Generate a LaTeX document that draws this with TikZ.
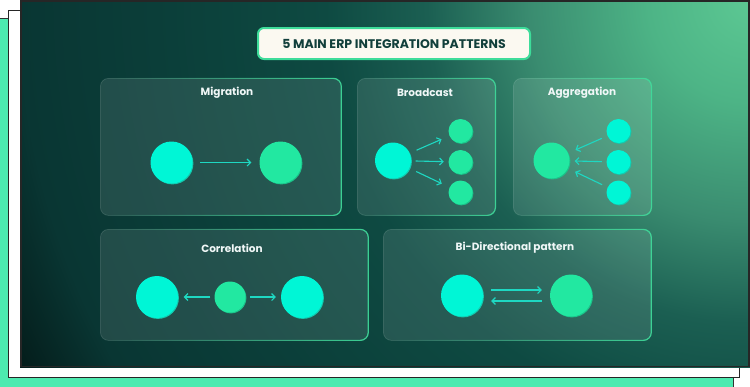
\documentclass[tikz,border=0pt]{standalone}
\usepackage{fontspec}
\setmainfont{Poppins}
\usetikzlibrary{positioning,calc,arrows.meta,shadows,fadings}

\definecolor{glowA}{HTML}{5CC893}
\definecolor{glowB}{HTML}{4DB486}
\definecolor{glowC}{HTML}{3A8C70}
\definecolor{glowD}{HTML}{1B5F52}
\definecolor{glowE}{HTML}{0E4A42}
\definecolor{glowF}{HTML}{0B3E39}
\definecolor{glowG}{HTML}{093633}
\definecolor{glowH}{HTML}{041D1B}
\definecolor{ballcyan}{HTML}{00F6D6}
\definecolor{ringcyan}{HTML}{13C9AE}
\definecolor{ballgreen}{HTML}{22E8A1}
\definecolor{ringgreen}{HTML}{1BC38A}
\definecolor{flowc}{HTML}{1ED8C2}
\definecolor{edgegreen}{HTML}{3DDC9A}
\definecolor{layergreen}{HTML}{4DEAB0}
\definecolor{titleink}{HTML}{113F3B}
\definecolor{titlefill}{HTML}{FBF9F1}

\pgfdeclareradialshading{panelglow}{\pgfpointorigin}{color(0bp)=(glowA); color(3bp)=(glowB); color(6.5bp)=(glowC); color(9.5bp)=(glowD); color(12.5bp)=(glowE); color(17.5bp)=(glowF); color(21.5bp)=(glowG); color(24bp)=(glowH); color(50bp)=(glowH)}
\tikzfading[name=fadetoleft, left color=transparent!100, middle color=transparent!75, right color=transparent!0]

\begin{document}
\begin{tikzpicture}[x=1pt, y=-1pt, font=\bfseries]
\tikzset{
  card/.style={draw=white, draw opacity=0.12, fill=white, fill opacity=0.1, rounded corners=8pt, line width=0.8pt,
    postaction={draw=edgegreen, draw opacity=0.9, line width=1.2pt, path fading=fadetoleft}},
  cardtitle/.style={text=white!94!teal, font=\bfseries\fontsize{10.5}{12}\selectfont, inner sep=0pt},
  banner/.style={draw=edgegreen, line width=2pt, fill=titlefill, rounded corners=6pt, text=titleink,
    font=\bfseries\fontsize{12.5}{15}\selectfont, minimum width=272pt, minimum height=31pt},
  cyanball/.style={circle, fill=ballcyan, inner sep=0pt,
    drop shadow={shadow xshift=0.9pt, shadow yshift=-0.9pt, fill=ringcyan, opacity=1}},
  greenball/.style={circle, fill=ballgreen, inner sep=0pt,
    drop shadow={shadow xshift=0.9pt, shadow yshift=-0.9pt, fill=ringgreen, opacity=1}},
  flow/.style={draw=flowc, line width=1.1pt, -{Straight Barb[length=3.5pt, width=7pt]}}
}
\useasboundingbox (0,0) rectangle (750,386);
% stacked sheets behind the panel
\fill[layergreen, draw=black!80, line width=0.8pt] (-2,18) rectangle (733,390);
\fill[white, draw=black!85, line width=0.9pt] (8,10) rectangle (739,377.5);
\begin{scope}
  \clip (20,0) rectangle (750,367);
  \fill[glowH] (20,0) rectangle (750,367);
  \shade[shading=panelglow] (750,0) circle (850pt);
\end{scope}
\draw[black!85, line width=1.6pt] (20.8,0.8) rectangle (749,366.5);

\node[banner] (ttl) at (394,43.5) {5 MAIN ERP INTEGRATION PATTERNS};

% cards
\node[card, minimum width=241pt, minimum height=137pt, anchor=north west] (migc) at (100,78) {};
\node[card, minimum width=138pt, minimum height=137pt, anchor=north west] (brdc) at (357,78) {};
\node[card, minimum width=138pt, minimum height=137pt, anchor=north west] (aggc) at (513,78) {};
\node[card, minimum width=268pt, minimum height=111pt, anchor=north west] (corc) at (100,229) {};
\node[card, minimum width=268pt, minimum height=111pt, anchor=north west] (bidc) at (383,229) {};

\node[cardtitle] at ($(migc.north west)+(127,15)$) {Migration};
\node[cardtitle] at ($(brdc.north west)+(68,15)$) {Broadcast};
\node[cardtitle] at ($(aggc.north west)+(69,15)$) {Aggregation};
\node[cardtitle] at ($(corc.north west)+(132,19)$) {Correlation};
\node[cardtitle] at ($(bidc.north west)+(132,19)$) {Bi-Directional pattern};

% migration
\node[cyanball, minimum size=42pt] (mig1) at (171.5,162.5) {};
\node[greenball, minimum size=42pt] (mig2) at (280.5,162.5) {};
\draw[flow, shorten <=7.5pt, shorten >=8pt] (mig1) -- (mig2);

% broadcast
\node[cyanball, minimum size=36pt] (brd0) at (393,160.5) {};
\foreach \k/\yy in {1/131,2/162,3/192.5} {
  \node[greenball, minimum size=24pt] (brd\k) at (460.5,\yy) {};
}
\draw[flow, shorten <=7.5pt, shorten >=8.5pt] (brd0) -- (brd1);
\draw[flow, shorten <=4.5pt, shorten >=4.5pt] (brd0) -- (brd2);
\draw[flow, shorten <=7.5pt, shorten >=8.5pt] (brd0) -- (brd3);

% aggregation
\node[greenball, minimum size=36pt] (agg0) at (551.5,160.5) {};
\foreach \k/\yy in {1/131,2/162,3/192.5} {
  \node[cyanball, minimum size=24pt] (agg\k) at (618.5,\yy) {};
}
\draw[flow, shorten <=6pt, shorten >=8pt] (agg1) -- (agg0);
\draw[flow, shorten <=4.5pt, shorten >=5pt] (agg2) -- (agg0);
\draw[flow, shorten <=6pt, shorten >=8pt] (agg3) -- (agg0);

% correlation
\node[cyanball, minimum size=42pt] (cor1) at (157,297) {};
\node[greenball, minimum size=31pt] (cor0) at (230,297) {};
\node[cyanball, minimum size=42pt] (cor2) at (302,297) {};
\draw[flow, shorten <=4pt, shorten >=5.5pt] (cor0) -- (cor1);
\draw[flow, shorten <=4.5pt, shorten >=5pt] (cor0) -- (cor2);

% bi-directional
\node[cyanball, minimum size=42pt] (bid1) at (462,295.5) {};
\node[greenball, minimum size=42pt] (bid2) at (571,295.5) {};
\draw[flow] ([xshift=8pt, yshift=5.5pt]bid1.east) -- ([xshift=-8pt, yshift=5.5pt]bid2.west);
\draw[flow] ([xshift=-8pt, yshift=-5.5pt]bid2.west) -- ([xshift=8pt, yshift=-5.5pt]bid1.east);
\end{tikzpicture}
\end{document}
